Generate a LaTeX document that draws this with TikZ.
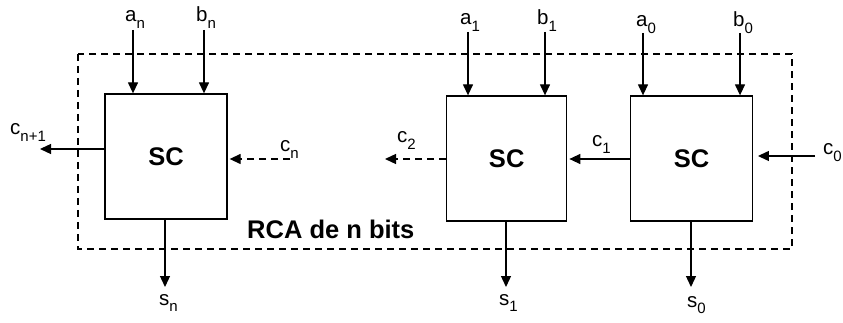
\documentclass[tikz,border=0pt]{standalone}
\usepackage{fontspec}
\setmainfont{Liberation Sans}
\usetikzlibrary{arrows.meta}
\newcommand{\sbs}[1]{\raisebox{-0.3em}{\fontsize{15}{15}\selectfont #1}}
\begin{document}
\begin{tikzpicture}[x=1pt,y=-1pt,
  scbox/.style={draw, line width=1.3pt, inner sep=0pt, minimum height=125pt,
    font=\fontsize{25.5}{25.5}\selectfont\bfseries},
  arr/.style={line width=1.3pt, -{Triangle[length=11pt,width=10pt]}},
  dashln/.style={dash pattern=on 7pt off 5pt},
  lbl/.style={font=\fontsize{20.5}{20.5}\selectfont, inner sep=0pt, anchor=base west}]
\useasboundingbox (0,0) rectangle (843,323);
% dashed RCA frame
\draw[line width=1.3pt, dashln] (78,54) rectangle (792,249);
\node[lbl, font=\fontsize{25.5}{25.5}\selectfont\bfseries] (rca) at (247,238) {RCA de n bits};
% boxes
\node[scbox, minimum width=122pt] (b1) at (166,156.5) {SC};
\node[scbox, minimum width=120pt] (b2) at (506.7,158.5) {SC};
\node[scbox, minimum width=121.6pt] (b3) at (691.5,158.5) {SC};
% input labels
\node[lbl] (lan) at (125,22) {a\sbs{n}};
\node[lbl] (lbn) at (196,22) {b\sbs{n}};
\node[lbl] (la1) at (460,25) {a\sbs{1}};
\node[lbl] (lb1) at (537,25) {b\sbs{1}};
\node[lbl] (la0) at (636,27) {a\sbs{0}};
\node[lbl] (lb0) at (733,27) {b\sbs{0}};
% input arrows
\coordinate (an) at (133,30);
\coordinate (bn) at (204,30);
\coordinate (a1) at (468,32);
\coordinate (bb1) at (545,32);
\coordinate (a0) at (643,33);
\coordinate (bb0) at (740,33);
\draw[arr] (an) -- (an |- b1.north);
\draw[arr] (bn) -- (bn |- b1.north);
\draw[arr] (a1) -- (a1 |- b2.north);
\draw[arr] (bb1) -- (bb1 |- b2.north);
\draw[arr] (a0) -- (a0 |- b3.north);
\draw[arr] (bb0) -- (bb0 |- b3.north);
% carries
\coordinate (cnp) at (40,149);
\draw[arr] (cnp -| b1.west) -- (cnp);
\node[lbl] (lcnp) at (10,135) {c\sbs{n+1}};
\coordinate (cn) at (290,159);
\draw[arr, dashln, shorten >=2pt] (cn) -- (cn -| b1.east);
\node[lbl] (lcn) at (280,152) {c\sbs{n}};
\coordinate (c2) at (385,159);
\draw[arr, dashln] (c2 -| b2.west) -- (c2);
\node[lbl] (lc2) at (397,143) {c\sbs{2}};
\coordinate (c1) at (600,159);
\draw[arr, shorten >=2pt] (c1 -| b3.west) -- (c1 -| b2.east);
\node[lbl] (lc1) at (592,147) {c\sbs{1}};
\coordinate (c0) at (815,156);
\draw[arr, shorten >=5pt] (c0) -- (c0 -| b3.east);
\node[lbl] (lc0) at (823,155) {c\sbs{0}};
% sum outputs
\coordinate (sn) at (165,287);
\coordinate (s1) at (506,287);
\coordinate (s0) at (691,287);
\draw[arr] (sn |- b1.south) -- (sn);
\draw[arr] (s1 |- b2.south) -- (s1);
\draw[arr] (s0 |- b3.south) -- (s0);
\node[lbl] (lsn) at (159,305) {s\sbs{n}};
\node[lbl] (ls1) at (499,305) {s\sbs{1}};
\node[lbl] (ls0) at (687,307) {s\sbs{0}};
\end{tikzpicture}
\end{document}
